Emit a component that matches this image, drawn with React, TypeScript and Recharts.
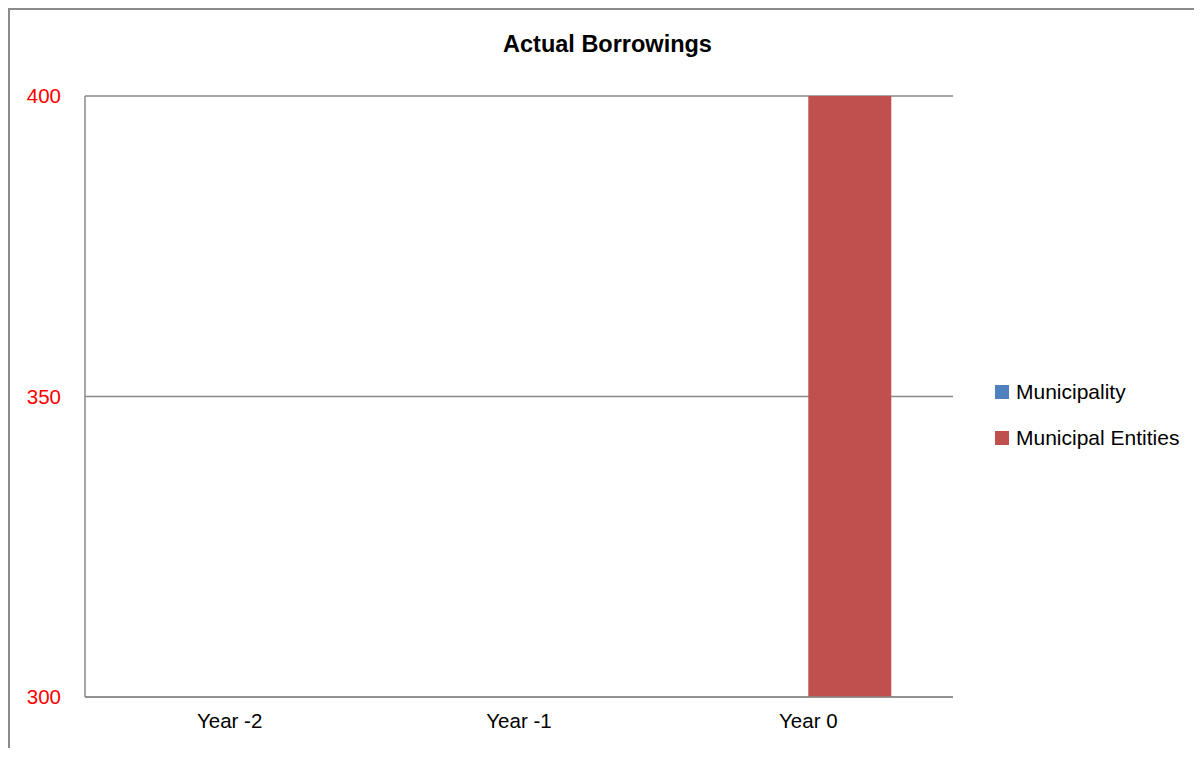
import { BarChart, Bar, XAxis, YAxis, CartesianGrid } from "recharts"

const years = ["Year -2", "Year -1", "Year 0"]
const municipality = [0, 0, 0]
const municipalEntities = [0, 0, 400]
const yTicks = [300, 350, 400]

const seriesColors = { municipality: "#4F81BD", entities: "#C0504D" }
const font = "'Liberation Sans', Arial, sans-serif"
const gray = "#8a8a8a"

const data = years.map((year, i) => ({
  year,
  municipality: municipality[i],
  entities: municipalEntities[i],
}))

const legendItems = [
  { label: "Municipality", color: seriesColors.municipality },
  { label: "Municipal Entities", color: seriesColors.entities },
]

export default function App() {
  return (
    <div style={{ position: "relative", width: 1186, height: 740, fontFamily: font }}>
      <div
        style={{
          position: "absolute",
          left: 0,
          top: 0,
          width: 1194,
          height: 750,
          boxSizing: "border-box",
          borderTop: `2px solid ${gray}`,
          borderLeft: `2px solid ${gray}`,
        }}
      />
      <div
        style={{
          position: "absolute",
          left: 0,
          top: 25,
          width: 1199,
          textAlign: "center",
          fontSize: 23.5,
          lineHeight: "23.5px",
          fontWeight: "bold",
          color: "#000",
        }}
      >
        Actual Borrowings
      </div>
      <div style={{ position: "absolute", left: 0, top: 0 }}>
        <BarChart
          width={1186}
          height={740}
          data={data}
          margin={{ top: 88, right: 241, bottom: 11, left: 0 }}
          barGap={0}
          barCategoryGap="21.3%"
        >
          <CartesianGrid vertical={false} stroke={gray} strokeWidth={1.5} />
          <XAxis
            dataKey="year"
            height={40}
            axisLine={{ stroke: gray, strokeWidth: 1.5 }}
            tickLine={false}
            tickSize={0}
            tickMargin={16}
            tick={{ fill: "#000", fontSize: 20.5, fontFamily: font }}
          />
          <YAxis
            width={77}
            domain={[300, 400]}
            ticks={yTicks}
            allowDataOverflow
            axisLine={{ stroke: gray, strokeWidth: 1.5 }}
            tickLine={false}
            tickSize={0}
            tickMargin={24}
            tick={{ fill: "#FF0000", fontSize: 20.5, fontFamily: font }}
          />
          <Bar dataKey="municipality" name="Municipality" fill={seriesColors.municipality} isAnimationActive={false} />
          <Bar dataKey="entities" name="Municipal Entities" fill={seriesColors.entities} isAnimationActive={false} />
        </BarChart>
      </div>
      <div style={{ position: "absolute", left: 987, top: 370 }}>
        {legendItems.map((item) => (
          <div
            key={item.label}
            style={{
              display: "flex",
              alignItems: "center",
              height: 28,
              marginBottom: 18,
              fontSize: 21,
              whiteSpace: "nowrap",
            }}
          >
            <span style={{ display: "inline-block", width: 14, height: 14, background: item.color, marginRight: 7 }} />
            <span>{item.label}</span>
          </div>
        ))}
      </div>
    </div>
  )
}
